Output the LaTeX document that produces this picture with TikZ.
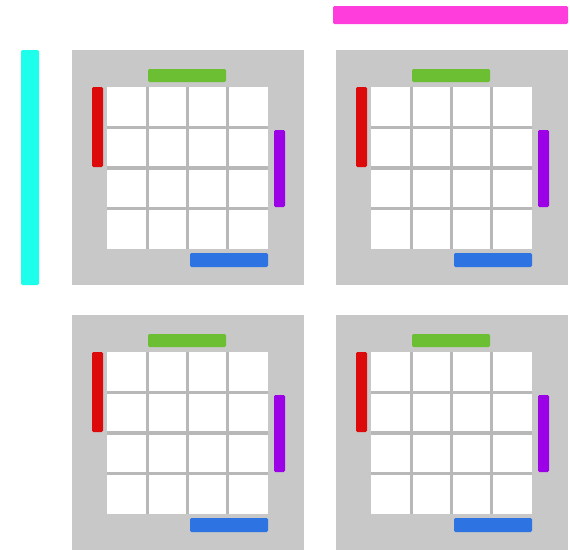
\documentclass[tikz,border=0pt]{standalone}
\usepackage{tikz}
\usetikzlibrary{calc}
\definecolor{panelgray}{RGB}{200,200,200}
\definecolor{gridgray}{RGB}{184,184,184}
\definecolor{cyancolor}{RGB}{30,255,235}
\definecolor{pinkcolor}{RGB}{255,60,220}
\definecolor{greencolor}{RGB}{108,190,50}
\definecolor{redcolor}{RGB}{220,10,10}
\definecolor{purplecolor}{RGB}{155,0,230}
\definecolor{bluecolor}{RGB}{45,115,225}
\tikzset{
  panelbg/.style={fill=panelgray},
  cellln/.style={draw=gridgray, line width=2.6pt},
  varbar/.style={rounded corners=1.2pt},
}
% one map: gray panel, 4x4 cells and its four bars
\newcommand{\kmap}[2]{%
  \begin{scope}[shift={(#1,#2)}]
    \fill[panelbg] (0,0) rectangle (232,235);
    \fill[white] (35,37) rectangle (196,199);
    \foreach \k in {1,2,3} {
      \draw[cellln] ({35+40.25*\k},37) -- ++(0,162);
      \draw[cellln] (35,{37+40.5*\k}) -- ++(161,0);
    }
    \fill[varbar, greencolor] (76,19) rectangle (154,32);
    \fill[varbar, redcolor] (20,37) rectangle (31,117);
    \fill[varbar, purplecolor] (202,80) rectangle (213,157);
    \fill[varbar, bluecolor] (118,203) rectangle (196,217);
  \end{scope}
}

\begin{document}
\begin{tikzpicture}[x=0.03cm, y=-0.03cm]
    \useasboundingbox (0,0) rectangle (570,549);
    % outer bars
    \fill[varbar, cyancolor] (21,50) rectangle (39,285);
    \fill[varbar, pinkcolor] (333,6) rectangle (568,24);
    % the four maps
    \foreach \px/\py in {72/50, 336/50, 72/315, 336/315} {
      \kmap{\px}{\py}
    }
  \end{tikzpicture}
\end{document}
